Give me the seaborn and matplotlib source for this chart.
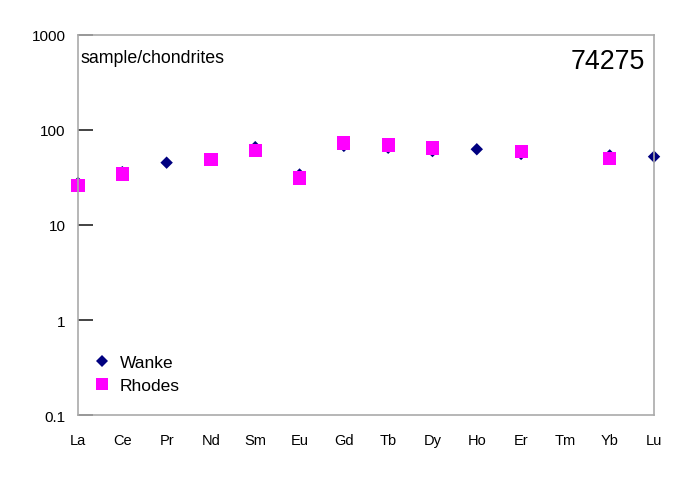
import numpy as np
import pandas as pd
import matplotlib
matplotlib.use("Agg")
import matplotlib.pyplot as plt
import seaborn as sns

# REE elements (chondrite normalised), sample 74275
elements = ['La', 'Ce', 'Pr', 'Nd', 'Sm', 'Eu', 'Gd', 'Tb', 'Dy', 'Ho', 'Er', 'Tm', 'Yb', 'Lu']

wanke = [27.7, 36.0, 45.3, None, 66.0, 34.0, 68.0, 65.0, 60.0, 62.7, 56.0, None, 54.0, 52.4]
rhodes = [25.8, 34.4, None, 49.0, 60.5, 31.2, 73.0, 69.5, 64.6, None, 59.0, None, 50.3, None]

sample_name = '74275'
norm_label = 'sample/chondrites'

rows = []
for i, el in enumerate(elements):
    if wanke[i] is not None:
        rows.append({'pos': i, 'element': el, 'value': wanke[i], 'source': 'Wanke'})
for i, el in enumerate(elements):
    if rhodes[i] is not None:
        rows.append({'pos': i, 'element': el, 'value': rhodes[i], 'source': 'Rhodes'})
df = pd.DataFrame(rows)

sns.set_style('white')
plt.rcParams['font.family'] = ['Liberation Sans', 'DejaVu Sans']
plt.rcParams['text.color'] = 'black'
plt.rcParams['xtick.color'] = 'black'
plt.rcParams['ytick.color'] = 'black'

fig = plt.figure(figsize=(6.94, 4.81), dpi=100)
ax = fig.add_axes([0.1124, 0.1351, 0.8300, 0.7901])

sns.scatterplot(data=df, x='pos', y='value', hue='source', style='source',
                markers={'Wanke': 'D', 'Rhodes': 's'},
                palette={'Wanke': '#000080', 'Rhodes': '#ff00ff'},
                size='source', sizes={'Wanke': 40, 'Rhodes': 90},
                edgecolor='none', linewidth=0, clip_on=False, ax=ax)

ax.set_yscale('log')
ax.set_ylim(0.1, 1000)
ax.set_xlim(0, len(elements) - 1)

ax.set_yticks([0.1, 1, 10, 100, 1000])
ax.set_yticklabels(['0.1', '1', '10', '100', '1000'])
ax.yaxis.set_minor_locator(matplotlib.ticker.NullLocator())
ax.tick_params(axis='y', which='major', direction='in', length=11, width=1.2,
               color='#222222', labelsize=11, pad=9, left=True)

ax.set_xticks(range(len(elements)))
ax.set_xticklabels(elements)
ax.tick_params(axis='x', which='major', length=0, labelsize=10.5, pad=13)
tick_pos = sorted(df['pos'].unique())
ax.set_xticks(tick_pos, minor=True)
ax.tick_params(axis='x', which='minor', direction='in', length=12, width=1.0,
               color='#111111', bottom=True)

for sp in ax.spines.values():
    sp.set_visible(True)
    sp.set_color('#aaaaaa')
    sp.set_linewidth(1.2)

ax.set_xlabel('')
ax.set_ylabel('')

ax.text(0.005, 0.962, norm_label, transform=ax.transAxes, ha='left', va='top', fontsize=12.8)
ax.text(0.985, 0.965, sample_name, transform=ax.transAxes, ha='right', va='top', fontsize=19.3)

handles, labels = ax.get_legend_handles_labels()
ax.legend(handles=handles, labels=labels, loc='lower left', bbox_to_anchor=(-0.016, 0.016),
          frameon=False, fontsize=12.5, handletextpad=0.05, labelspacing=0.45,
          markerscale=0.9)

fig.savefig('out.png', dpi=100)
